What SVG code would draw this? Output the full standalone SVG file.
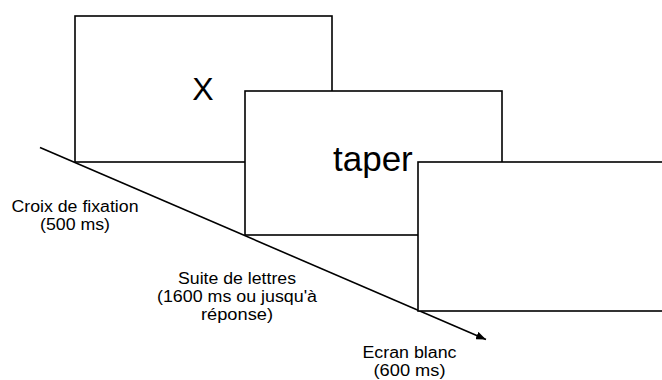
<svg xmlns="http://www.w3.org/2000/svg" width="662" height="380" viewBox="0 0 662 380">
<style>
.scr{fill:#fff;stroke:#000;stroke-width:1.6}
.big{font-family:"Liberation Sans",Arial,sans-serif;fill:#000}
.lbl{font-family:"Liberation Sans",Arial,sans-serif;font-size:16px;fill:#000;text-anchor:middle}
</style>
<defs>
<marker id="ah" markerWidth="10" markerHeight="8" refX="10" refY="4" orient="auto" markerUnits="userSpaceOnUse">
<path d="M0,0 L10,4 L0,8 Z" fill="#000"/>
</marker>
</defs>
<rect width="662" height="380" fill="#fff"/>
<g id="connectors">
<line x1="40" y1="147.5" x2="486" y2="339.5" stroke="#000" stroke-width="1.6" marker-end="url(#ah)"/>
</g>
<g id="screen1">
<rect class="scr" x="75" y="16" width="257" height="146"/>
<text class="big" x="203" y="100" font-size="32" text-anchor="middle">X</text>
</g>
<g id="screen2">
<rect class="scr" x="245" y="91" width="257" height="144"/>
<text class="big" x="333" y="171" font-size="35">taper</text>
</g>
<g id="screen3">
<rect class="scr" x="418" y="162" width="257" height="149"/>
</g>
<g id="label1">
<text class="lbl" x="75" y="211.5" textLength="127" lengthAdjust="spacingAndGlyphs">Croix de fixation</text>
<text class="lbl" x="75" y="229.5" textLength="70" lengthAdjust="spacingAndGlyphs">(500 ms)</text>
</g>
<g id="label2">
<text class="lbl" x="237" y="283.5" textLength="118" lengthAdjust="spacingAndGlyphs">Suite de lettres</text>
<text class="lbl" x="237" y="301.5" textLength="160" lengthAdjust="spacingAndGlyphs">(1600 ms ou jusqu'à</text>
<text class="lbl" x="237" y="319.5" textLength="72" lengthAdjust="spacingAndGlyphs">réponse)</text>
</g>
<g id="label3">
<text class="lbl" x="409.5" y="357.5" textLength="94" lengthAdjust="spacingAndGlyphs">Ecran blanc</text>
<text class="lbl" x="409.5" y="375.5" textLength="72" lengthAdjust="spacingAndGlyphs">(600 ms)</text>
</g>
</svg>
